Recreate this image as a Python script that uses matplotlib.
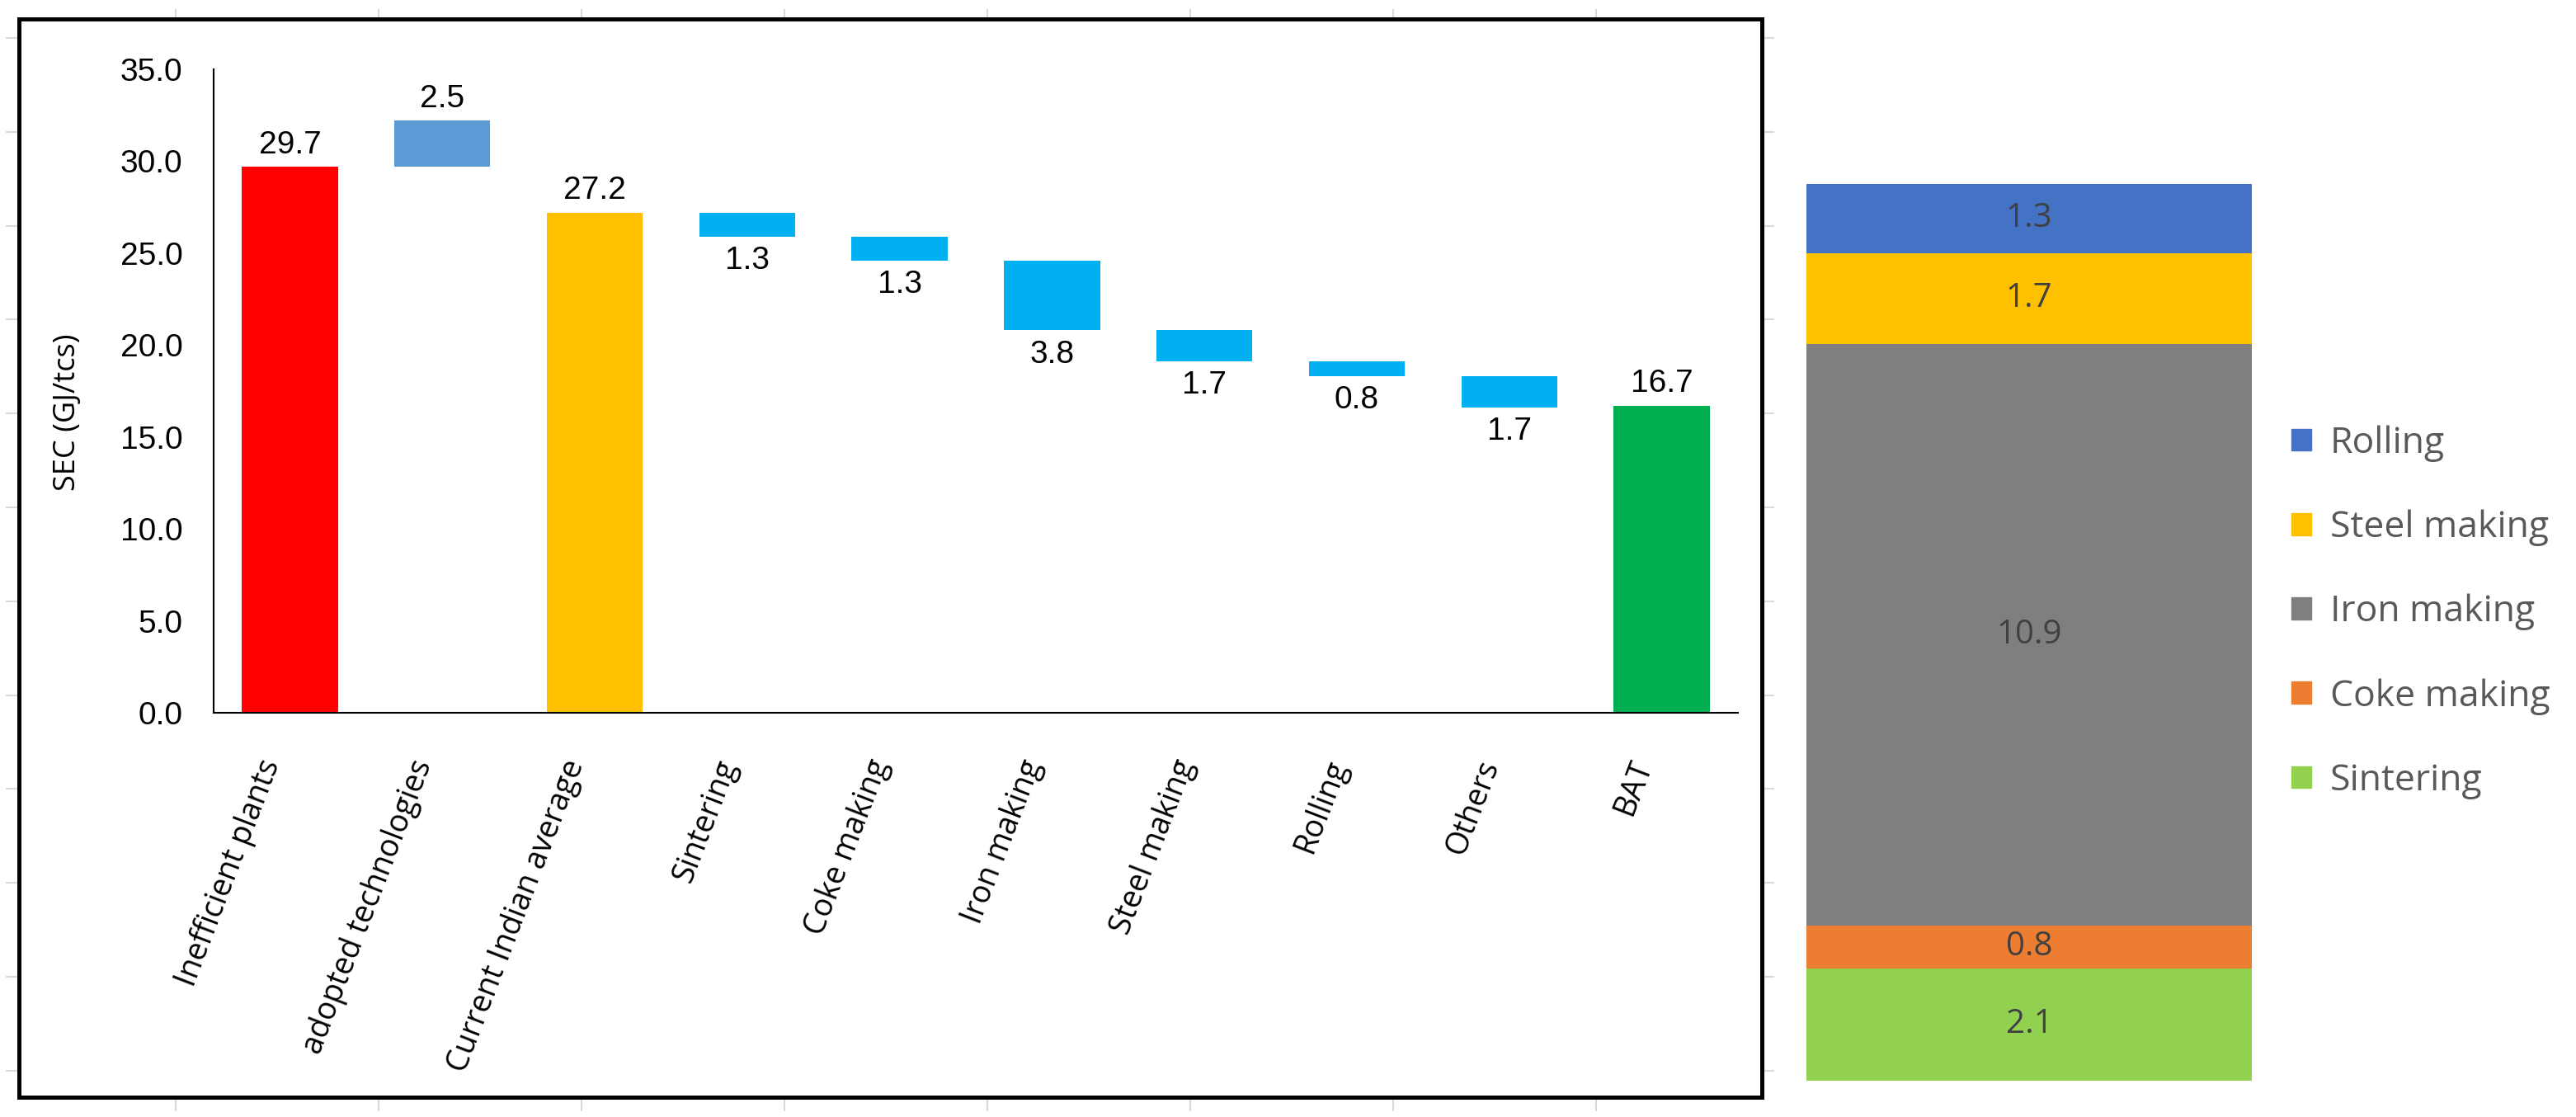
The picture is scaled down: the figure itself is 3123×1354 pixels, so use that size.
import matplotlib.pyplot as plt
from matplotlib.lines import Line2D
from matplotlib.patches import Rectangle, Patch

# waterfall data
categories = ['Inefficient plants', 'adopted technologies', 'Current Indian average',
              'Sintering', 'Coke making', 'Iron making', 'Steel making', 'Rolling',
              'Others', 'BAT']
values = [29.7, 2.5, 27.2, 1.3, 1.3, 3.8, 1.7, 0.8, 1.7, 16.7]
kinds = ['total', 'up', 'total', 'down', 'down', 'down', 'down', 'down', 'down', 'total']
bar_colors = ['#FF0000', '#5B9BD5', '#FFC000', '#00B0F0', '#00B0F0', '#00B0F0',
              '#00B0F0', '#00B0F0', '#00B0F0', '#00B050']
y_ticks = [0, 5, 10, 15, 20, 25, 30, 35]

# stacked breakdown (bottom to top)
seg_names = ['Sintering', 'Coke making', 'Iron making', 'Steel making', 'Rolling']
seg_values = [2.1, 0.8, 10.9, 1.7, 1.3]
seg_colors = ['#92D050', '#ED7D31', '#7F7F7F', '#FFC000', '#4472C4']

W, H = 3123, 1354
fig = plt.figure(figsize=(W / 100, H / 100), dpi=100)


def fx(x):
    return x / W


def fy(y):
    return 1 - y / H


num_font = ['Liberation Sans', 'DejaVu Sans']
txt_font = ['Open Sans', 'DejaVu Sans']

# main waterfall axes (pixel box of the plot area)
L, R, T, B = 259, 2107, 84, 864
ax = fig.add_axes([fx(L), fy(B), fx(R) - fx(L), fy(T) - fy(B)])
bottoms = []
level = 0
for v, k in zip(values, kinds):
    if k == 'total':
        bottoms.append(0)
        level = v
    elif k == 'up':
        bottoms.append(level)
    else:
        level = level - v
        bottoms.append(level)

xs = list(range(len(categories)))
ax.bar(xs, values, bottom=bottoms, width=0.63, color=bar_colors)
for x, v, b, k in zip(xs, values, bottoms, kinds):
    if k == 'down':
        ax.annotate(f'{v:.1f}', (x, b), xytext=(0, -8), textcoords='offset points',
                    ha='center', va='top', fontsize=28, family=num_font)
    else:
        ax.annotate(f'{v:.1f}', (x, b + v), xytext=(0, 6), textcoords='offset points',
                    ha='center', va='bottom', fontsize=28, family=num_font)

ax.set_xlim(-0.5, len(categories) - 0.5)
ax.set_ylim(0, 35)
ax.set_yticks(y_ticks)
ax.set_yticklabels([f'{t:.1f}' for t in y_ticks], fontsize=28, family=num_font)
ax.set_xticks([])
# rotated category labels, ends slightly left of the bar centre
for x, name in zip(xs, categories):
    ax.annotate(name, (x, 0), xycoords=('data', 'axes fraction'), xytext=(-16, -42),
                textcoords='offset points', rotation=69, ha='right', va='center',
                rotation_mode='anchor', fontsize=27, family=txt_font)
ax.tick_params(axis='y', length=0, pad=27)
for s in ['top', 'right']:
    ax.spines[s].set_visible(False)
for s in ['left', 'bottom']:
    ax.spines[s].set_linewidth(1.5)
    ax.spines[s].set_color('black')
ax.set_ylabel('SEC (GJ/tcs)', fontsize=26, family=txt_font)
ax.yaxis.set_label_coords(-(L - 100) / (R - L), (B - 500) / (B - T))

# outer frame round the waterfall
fig.patches.append(Rectangle((fx(23), fy(1330)), fx(2136) - fx(23), fy(23) - fy(1330),
                             transform=fig.transFigure, fill=False, edgecolor='black',
                             linewidth=3.6, zorder=5))

# faint container ticks
tick_c = '#D9D9D9'
for k in range(8):
    x = 213 + 246 * k
    fig.add_artist(Line2D([fx(x), fx(x)], [fy(12), fy(21)], color=tick_c, lw=1.5))
    fig.add_artist(Line2D([fx(x), fx(x)], [fy(1334), fy(1346)], color=tick_c, lw=1.5))
for k in range(12):
    y = 46 + 113.8 * k
    fig.add_artist(Line2D([fx(8), fx(20)], [fy(y), fy(y)], color=tick_c, lw=1.5))
    fig.add_artist(Line2D([fx(2140), fx(2150)], [fy(y), fy(y)], color=tick_c, lw=1.5))

# stacked bar
ax2 = fig.add_axes([fx(2190), fy(1310), fx(2730) - fx(2190), fy(223) - fy(1310)])
base = 0
for name, v, c in zip(seg_names, seg_values, seg_colors):
    ax2.bar(0, v, bottom=base, width=1, color=c)
    ax2.text(0, base + v / 2, f'{v:.1f}', ha='center', va='center', fontsize=29,
             color='#404040', family=txt_font)
    base += v
ax2.set_xlim(-0.5, 0.5)
ax2.set_ylim(0, base)
ax2.axis('off')

handles = [Patch(color=c, label=n) for n, c in zip(seg_names, seg_colors)][::-1]
fig.legend(handles=handles, loc='center left', bbox_to_anchor=(fx(2738), fy(742)),
           frameon=False, prop={'family': txt_font, 'size': 32}, labelcolor='#595959',
           handlelength=0.55, handleheight=0.55, handletextpad=0.5, labelspacing=1.3)

fig.savefig('out.png', dpi=100)
